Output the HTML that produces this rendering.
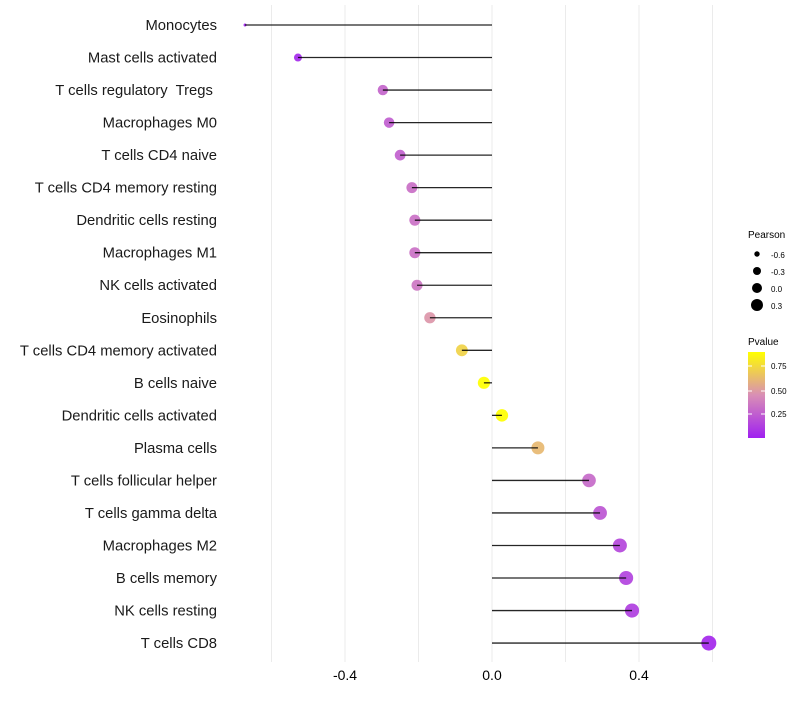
<!DOCTYPE html>
<html><head><meta charset="utf-8"><style>
body{margin:0;background:#fff;font-family:"Liberation Sans",sans-serif}
svg text{font-family:"Liberation Sans",sans-serif;white-space:pre}
</style></head><body>
<svg id="chart" width="800" height="700">
<defs><linearGradient id="pg" x1="0" y1="1" x2="0" y2="0">
<stop offset="0" stop-color="#a020f0"/><stop offset="0.5" stop-color="#d98fb5"/><stop offset="1" stop-color="#ffff00"/></linearGradient></defs>
<g id="grid"></g>
<g id="points"></g>
<g id="marks"></g>
<g id="ylabels"></g>
<g id="xlabels"></g>
<g>
<text x="748" y="238" font-size="10">Pearson</text>
<circle cx="757" cy="254" r="2.7" fill="#000"/><text x="771" y="258" font-size="8">-0.6</text>
<circle cx="757" cy="271" r="4" fill="#000"/><text x="771" y="275" font-size="8">-0.3</text>
<circle cx="757" cy="288" r="5" fill="#000"/><text x="771" y="292" font-size="8">0.0</text>
<circle cx="757" cy="305" r="6" fill="#000"/><text x="771" y="309" font-size="8">0.3</text>
</g>
<g>
<text x="748" y="345" font-size="10">Pvalue</text>
<rect x="748" y="352" width="17" height="86" fill="url(#pg)"/>
<line x1="748" x2="752" y1="366" y2="366" stroke="#fff"/><line x1="761" x2="765" y1="366" y2="366" stroke="#fff"/>
<line x1="748" x2="752" y1="391" y2="391" stroke="#fff"/><line x1="761" x2="765" y1="391" y2="391" stroke="#fff"/>
<line x1="748" x2="752" y1="414" y2="414" stroke="#fff"/><line x1="761" x2="765" y1="414" y2="414" stroke="#fff"/>
<text x="771" y="369" font-size="8">0.75</text>
<text x="771" y="394" font-size="8">0.50</text>
<text x="771" y="417" font-size="8">0.25</text>
</g>
</svg>
<script>
const categories=["Monocytes","Mast cells activated","T cells regulatory  Tregs ","Macrophages M0","T cells CD4 naive","T cells CD4 memory resting","Dendritic cells resting","Macrophages M1","NK cells activated","Eosinophils","T cells CD4 memory activated","B cells naive","Dendritic cells activated","Plasma cells","T cells follicular helper","T cells gamma delta","Macrophages M2","B cells memory","NK cells resting","T cells CD8"];
const pearson=[-0.672,-0.528,-0.297,-0.280,-0.250,-0.218,-0.210,-0.210,-0.204,-0.169,-0.082,-0.022,0.027,0.125,0.264,0.294,0.348,0.365,0.381,0.590];
const pvalue=[0.01,0.04,0.28,0.25,0.26,0.32,0.33,0.33,0.35,0.48,0.72,0.90,0.90,0.62,0.30,0.22,0.16,0.14,0.12,0.03];
const xTicks=[-0.4,0.0,0.4];
const xGrid=[-0.6,-0.4,-0.2,0,0.2,0.4,0.6];
const NS="http://www.w3.org/2000/svg";
const xs=v=>492+v*367.5;
const ys=i=>25+i*32.53;
function mk(t,a,p){const e=document.createElementNS(NS,t);for(const k in a)e.setAttribute(k,a[k]);p.appendChild(e);return e;}
function lerp(a,b,t){return a.map((x,i)=>Math.round(x+(b[i]-x)*t));}
function col(p){const t=Math.min(1,Math.max(0,p/0.9));const c=t<0.5?lerp([160,32,240],[217,143,181],t*2):lerp([217,143,181],[255,255,0],(t-0.5)*2);return `rgb(${c})`;}
const grid=document.getElementById('grid'),marks=document.getElementById('marks'),pts=document.getElementById('points'),yl=document.getElementById('ylabels'),xl=document.getElementById('xlabels');
const vmin=Math.min(...pearson),vmax=Math.max(...pearson);
xGrid.forEach(v=>{const l=mk('line',{x1:xs(v),x2:xs(v),y1:5,y2:662,stroke:'#ebebeb','stroke-width':1},grid);

});
xTicks.forEach(v=>{const t=mk('text',{x:xs(v),y:680,'font-size':14,'text-anchor':'middle',fill:'#000'},xl);t.textContent=v.toFixed(1);

});
categories.forEach((c,i)=>{
const y=ys(i),v=pearson[i];
const t=mk('text',{x:217,y:y+5,'font-size':14.8,'text-anchor':'end',fill:'#1a1a1a'},yl);t.textContent=c;


const tt=(v-vmin)/(vmax-vmin);
const r=1.5+6.0*Math.pow(tt,0.4);
const d=mk('circle',{cx:xs(v),cy:y,r:r,fill:col(pvalue[i]),'fill-opacity':0.92},pts);


const l=mk('line',{x1:xs(0),x2:xs(v),y1:y,y2:y,stroke:'#000','stroke-width':1.3,'stroke-opacity':0.85},marks);


});
</script>
</body></html>
